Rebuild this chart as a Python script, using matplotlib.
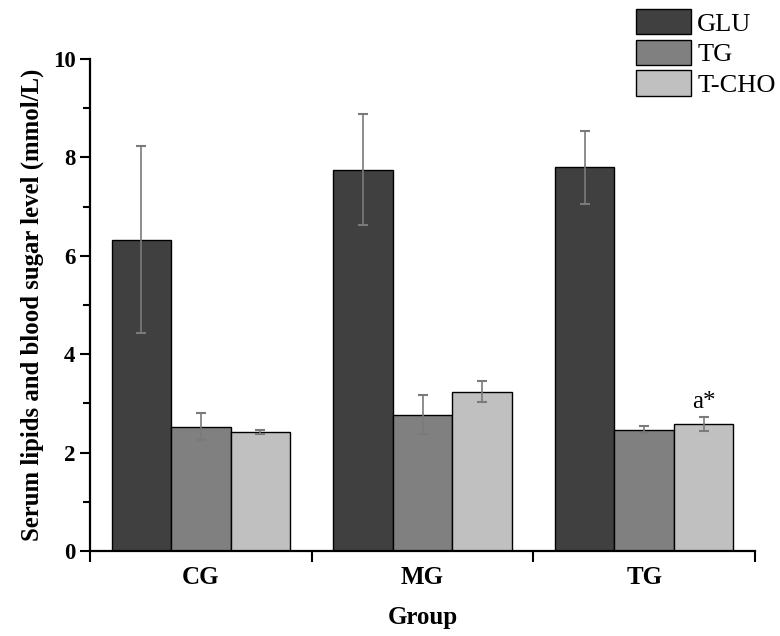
import numpy as np
import matplotlib
matplotlib.use("Agg")
import matplotlib.pyplot as plt

# values
groups = ["CG", "MG", "TG"]
series = ["GLU", "TG", "T-CHO"]
glu_mean = [6.33, 7.75, 7.80]
glu_err = [1.90, 1.13, 0.74]
tg_mean = [2.53, 2.77, 2.47]
tg_err = [0.27, 0.40, 0.07]
tcho_mean = [2.41, 3.24, 2.58]
tcho_err = [0.04, 0.22, 0.14]

means = [glu_mean, tg_mean, tcho_mean]
errs = [glu_err, tg_err, tcho_err]
colors = ["#404040", "#808080", "#c0c0c0"]

plt.rcParams["font.family"] = ["Liberation Serif", "DejaVu Serif"]

fig = plt.figure(figsize=(7.8, 6.36), dpi=100)
ax = fig.add_axes([0.1154, 0.1336, 0.8526, 0.7736])

x = np.arange(1, len(groups) + 1)
width = 0.268
handles = []
for i, (m, e, c, name) in enumerate(zip(means, errs, colors, series)):
    pos = x + (i - 1) * width
    b = ax.bar(pos, m, width, color=c, edgecolor="black", linewidth=1.0,
               label=name, zorder=2)
    handles.append(b)
    _, caps, bars = ax.errorbar(pos, m, yerr=e, fmt="none", ecolor="#7a7a7a",
                                elinewidth=1.2, capsize=3.5, capthick=1.5, zorder=3)
    for cap in caps:
        cap.set_color("#2a2a2a")

# significance mark on TG / T-CHO
ax.text(x[2] + width, tcho_mean[2] + tcho_err[2] + 0.08, "a*",
        ha="center", va="bottom", fontsize=18)

ax.set_xlim(0.5, 3.5)
ax.set_ylim(0, 10)
ax.set_yticks([0, 2, 4, 6, 8, 10])
ax.set_yticks([1, 3, 5, 7, 9], minor=True)
ax.set_xticks(x)
ax.set_xticklabels(groups)
ax.set_xticks([0.5, 1.5, 2.5, 3.5], minor=True)

for s in ["top", "right"]:
    ax.spines[s].set_visible(False)
for s in ["left", "bottom"]:
    ax.spines[s].set_linewidth(1.6)

ax.tick_params(axis="y", which="major", length=7, width=1.5, labelsize=16.5)
ax.tick_params(axis="y", which="minor", length=5, width=1.5)
ax.tick_params(axis="x", which="major", length=0, labelsize=18, pad=11)
ax.tick_params(axis="x", which="minor", length=8, width=1.5)
for lab in ax.get_xticklabels() + ax.get_yticklabels():
    lab.set_fontweight("bold")

ax.set_ylabel("Serum lipids and blood sugar level (mmol/L)", fontsize=17.8,
              fontweight="bold", labelpad=6)
ax.set_xlabel("Group", fontsize=18, fontweight="bold", labelpad=12)

fig.legend(handles=handles, labels=series, loc="upper left",
           bbox_to_anchor=(636 / 780, 1 - 9 / 636), frameon=False, fontsize=19,
           handlelength=2.1, handleheight=1.1, handletextpad=0.22,
           labelspacing=0.15, borderpad=0, borderaxespad=0)

fig.savefig("out.png", dpi=100)
